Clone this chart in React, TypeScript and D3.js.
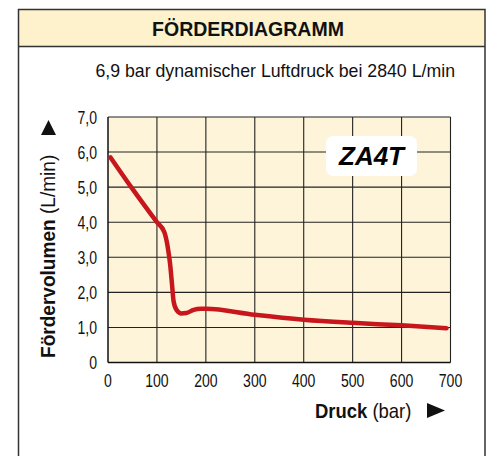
import React from "react";
import * as d3 from "d3";

const pressure = [5, 50, 100, 115, 122, 127, 131, 134, 140, 150, 160, 175, 190, 200, 300, 400, 500, 600, 692];
const volume = [5.85, 4.95, 4.0, 3.72, 3.3, 2.8, 2.2, 1.75, 1.5, 1.4, 1.41, 1.5, 1.53, 1.53, 1.36, 1.22, 1.13, 1.06, 0.98];
const xTicks = [0, 100, 200, 300, 400, 500, 600, 700];
const yTicks = [0, 1, 2, 3, 4, 5, 6, 7];
const yTickLabels = ["0", "1,0", "2,0", "3,0", "4,0", "5,0", "6,0", "7,0"];

const FONT = "'Liberation Sans', Arial, sans-serif";

function T(props: { x: number; y: number; size: number; sx: number; anchor?: string; weight?: string; children: any; rotate?: number }) {
  const { x, y, size, sx, anchor = "start", weight = "normal", children, rotate = 0 } = props;
  return (
    <g transform={`translate(${x},${y}) rotate(${rotate}) scale(${sx},1)`}>
      <text x={0} y={0} textAnchor={anchor} fontSize={size} fontWeight={weight} fill="#111">{children}</text>
    </g>
  );
}

export default function App() {
  const W = 489, H = 456;
  const x = d3.scaleLinear().domain([0, 700]).range([108, 450.5]);
  const y = d3.scaleLinear().domain([0, 7]).range([362.5, 117]);
  const line = d3.line<number>().x((_, i) => x(pressure[i])).y((v) => y(v)).curve(d3.curveMonotoneX);
  const path = line(volume) || "";
  return (
    <svg width={W} height={H} style={{ position: "absolute", left: 0, top: 0 }} fontFamily={FONT}>
      <rect x={0} y={0} width={W} height={H} fill="#fff" />
      <rect x={18.5} y={9.5} width={466.5} height={37} fill="#fdf2cc" />
      <path d={`M18.5,${H + 2} V9.5 H485 V${H + 2}`} fill="none" stroke="#333" strokeWidth={1.5} />
      <line x1={18.5} x2={485} y1={46.5} y2={46.5} stroke="#333" strokeWidth={1.5} />
      <T x={248} y={36} size={21} sx={0.93} anchor="middle" weight="bold">FÖRDERDIAGRAMM</T>
      <T x={455} y={77} size={18} sx={0.985} anchor="end">6,9 bar dynamischer Luftdruck bei 2840 L/min</T>

      <rect x={x(0)} y={y(7)} width={x(700) - x(0)} height={y(0) - y(7)} fill="#fdf4d9" />
      {xTicks.slice(1).map((t) => (
        <line key={"gx" + t} x1={x(t)} x2={x(t)} y1={y(7)} y2={y(0)} stroke="#222" strokeWidth={1.1} />
      ))}
      {yTicks.slice(1).map((t) => (
        <line key={"gy" + t} x1={x(0)} x2={x(700)} y1={y(t)} y2={y(t)} stroke="#222" strokeWidth={1.1} />
      ))}
      <line x1={x(0)} x2={x(0)} y1={y(7)} y2={y(0)} stroke="#111" strokeWidth={1.5} />
      <line x1={x(0)} x2={x(700)} y1={y(0)} y2={y(0)} stroke="#111" strokeWidth={1.5} />

      {yTicks.map((t, i) => (
        <T key={"ty" + t} x={97} y={y(t) + 6.5} size={18.5} sx={0.76} anchor="end">{yTickLabels[i]}</T>
      ))}
      {xTicks.map((t) => (
        <T key={"tx" + t} x={x(t)} y={386.5} size={18.5} sx={0.76} anchor="middle">{t}</T>
      ))}

      <path d={path} fill="none" stroke="#c8161d" strokeWidth={4.5} strokeLinecap="round" strokeLinejoin="round" />

      <rect x={326} y={136} width={91} height={40} rx={7} fill="#fff" />
      <text x={371.5} y={165} textAnchor="middle" fontSize={26} fontWeight="bold" fontStyle="italic" fill="#000">ZA4T</text>

      <T x={55} y={358} size={20.5} sx={0.93} rotate={-90}>
        <tspan fontWeight="bold">Fördervolumen</tspan>
        <tspan> (L/min)</tspan>
      </T>
      <path d="M41,135 L56,135 L48.5,120 Z" fill="#111" />

      <T x={315} y={418} size={20.5} sx={0.9}>
        <tspan fontWeight="bold">Druck</tspan>
        <tspan> (bar)</tspan>
      </T>
      <path d="M427,403 L427,418 L445,410.5 Z" fill="#111" />
    </svg>
  );
}
